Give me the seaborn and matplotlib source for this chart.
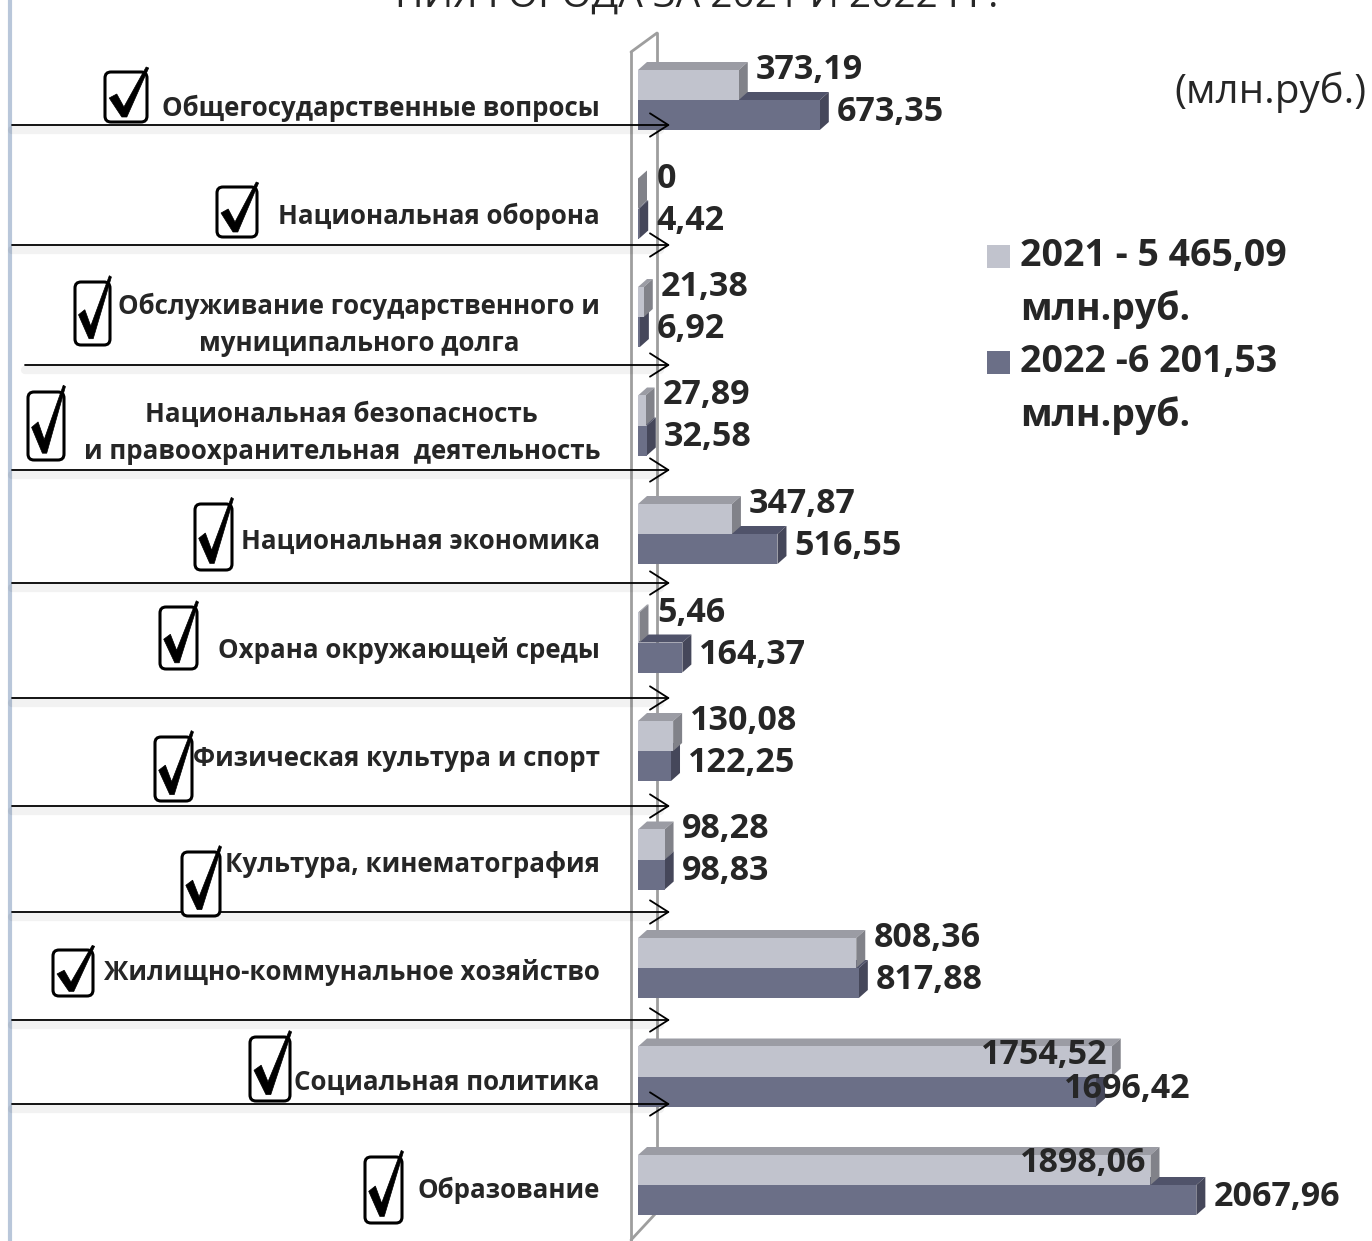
import numpy as np
import pandas as pd
import matplotlib
matplotlib.use("Agg")
import matplotlib.pyplot as plt
import matplotlib.transforms as mtransforms
from matplotlib.patches import Polygon, FancyBboxPatch, Rectangle
from matplotlib.lines import Line2D
import seaborn as sns

# ---------------- data ----------------
categories = [
    "Общегосударственные вопросы",
    "Национальная оборона",
    "Обслуживание государственного и\nмуниципального долга",
    "Национальная безопасность\nи правоохранительная  деятельность",
    "Национальная экономика",
    "Охрана окружающей среды",
    "Физическая культура и спорт",
    "Культура, кинематография",
    "Жилищно-коммунальное хозяйство",
    "Социальная политика",
    "Образование",
]
values_2021 = [373.19, 0, 21.38, 27.89, 347.87, 5.46, 130.08, 98.28, 808.36, 1754.52, 1898.06]
values_2022 = [673.35, 4.42, 6.92, 32.58, 516.55, 164.37, 122.25, 98.83, 817.88, 1696.42, 2067.96]
years = ["2021", "2022"]
legend_labels = ["2021 - 5 465,09\nмлн.руб.", "2022 -6 201,53\nмлн.руб."]
unit_label = "(млн.руб.)"
title_text = "НИЯ ГОРОДА ЗА 2021 И 2022 ГГ."

# ---------------- style ----------------
sns.set_theme(style="white")
FONT = ["Open Sans", "DejaVu Sans"]
plt.rcParams["font.family"] = FONT

LIGHT = {"front": "#C1C3CD", "top": "#9B9CA4", "side": "#818289"}
DARK = {"front": "#6B6F87", "top": "#50536A", "side": "#45475A"}

W, H = 1372, 1241
fig = plt.figure(figsize=(W / 100, H / 100), dpi=100)
ax = fig.add_axes([0, 0, 1, 1])

# pixel (top-left origin) transform for decorations
T = mtransforms.Affine2D().scale(1 / W, -1 / H).translate(0, 1) + fig.transFigure

X0, SC = 638, 0.27          # x pixel of zero, pixels per unit
Y0, STEP = 100, 108.5       # y pixel of first category centre, pixel step

df = pd.DataFrame({
    "cat": categories * 2,
    "value": values_2021 + values_2022,
    "year": [years[0]] * len(categories) + [years[1]] * len(categories),
})

sns.barplot(data=df, y="cat", x="value", hue="year", orient="h",
            palette=[LIGHT["front"], DARK["front"]], saturation=1,
            width=0.553, ax=ax, legend=False, linewidth=0, zorder=1)

ax.set_xlim(-X0 / SC, (W - X0) / SC)
ax.set_ylim((H - Y0) / STEP, -Y0 / STEP)
ax.axis("off")

DX = 9 / SC
DY = -8 / STEP

# 3-D faces
for cont, cols, zf in zip(ax.containers, [LIGHT, DARK], [0.7, 0.6]):
    for p in cont.patches:
        x0 = p.get_x()
        x1 = x0 + p.get_width()
        yt = p.get_y()
        yb = yt + p.get_height()
        top = Polygon([(x0, yt), (x0 + DX, yt + DY), (x1 + DX, yt + DY), (x1, yt)],
                      closed=True, fc=cols["top"], ec="none", zorder=zf)
        side = Polygon([(x1, yt), (x1 + DX, yt + DY), (x1 + DX, yb + DY), (x1, yb)],
                       closed=True, fc=cols["side"], ec="none", zorder=zf)
        ax.add_patch(top)
        ax.add_patch(side)

# value labels
def fmt(v):
    return ("%.2f" % v).replace(".", ",") if v != 0 else "0"

VAL_FS = 24.5
for i in range(len(categories)):
    v1, v2 = values_2021[i], values_2022[i]
    cy = Y0 + STEP * i
    e1 = X0 + v1 * SC
    e2 = X0 + v2 * SC
    if v1 > 1500:
        ax.text(e1 - 4, cy - 22, fmt(v1), transform=T, ha="right", va="center",
                fontsize=VAL_FS, fontweight="bold", zorder=8)
    else:
        ax.text(max(e1 + 17, 657), cy - 30, fmt(v1), transform=T, ha="left", va="center",
                fontsize=VAL_FS, fontweight="bold", zorder=8)
    if v2 > 1500 and v1 > v2:
        ax.text(e2 - 32, cy + 12, fmt(v2), transform=T, ha="left", va="center",
                fontsize=VAL_FS, fontweight="bold", zorder=8)
    else:
        ax.text(max(e2 + 17, 650), cy + 12, fmt(v2), transform=T, ha="left", va="center",
                fontsize=VAL_FS, fontweight="bold", zorder=8)

# wall
wall_c = "#9E9E9E"
for (xa, ya), (xb, yb) in [((631, 52), (631, 1241)), ((657, 33), (657, 1212)),
                           ((631, 52), (657, 33)), ((657, 1212), (631, 1240))]:
    ax.add_line(Line2D([xa, xb], [ya, yb], transform=T, color=wall_c, lw=2, zorder=0.3))

# left slide edge
ax.add_line(Line2D([10, 10], [0, H], transform=T, color="#B9C7DA", lw=3, zorder=0.3))

# arrows
arrow_rows = [(12, 125), (12, 245), (25, 365), (12, 470), (12, 583), (12, 698),
              (12, 806), (12, 912), (12, 1020), (12, 1104)]
for xs, ya in arrow_rows:
    ax.add_line(Line2D([xs, 660], [ya + 5, ya + 5], transform=T, color="#000000",
                       lw=6, alpha=0.05, zorder=4))
    ax.annotate("", xy=(670, ya), xytext=(xs, ya), xycoords=T, textcoords=T,
                arrowprops=dict(arrowstyle="->,head_length=1.1,head_width=0.7",
                                lw=1.3, color="black", shrinkA=0, shrinkB=0),
                zorder=5)

# category labels and check boxes
LAB_FS = 18.6
label_y = [108, 216, 325, 433, 541, 650, 758, 865, 973, 1082, 1190]
boxes = [(105, 72, 42, 50), (217, 187, 40, 50), (75, 282, 35, 63), (28, 392, 36, 68),
         (195, 504, 37, 66), (160, 607, 37, 62), (155, 737, 37, 64), (182, 852, 38, 64),
         (53, 950, 40, 46), (250, 1037, 40, 64), (365, 1157, 37, 66)]
for i, cat in enumerate(categories):
    ax.text(600, label_y[i], cat, transform=T, ha="right", va="center",
            multialignment="center", fontsize=LAB_FS, fontweight="bold",
            linespacing=1.5, zorder=7)
    bx, by, bw, bh = boxes[i]
    ax.add_patch(FancyBboxPatch((bx, by), bw, bh, boxstyle="round,pad=0,rounding_size=6",
                                transform=T, fc="white", ec="black", lw=2.2, zorder=6))
    pts = [(bx + 0.10 * bw, by + 0.52 * bh), (bx + 0.28 * bw, by + 0.44 * bh),
           (bx + 0.45 * bw, by + 0.70 * bh), (bx + 0.98 * bw, by - 0.10 * bh),
           (bx + 1.04 * bw, by - 0.08 * bh), (bx + 0.52 * bw, by + 0.90 * bh),
           (bx + 0.40 * bw, by + 0.90 * bh)]
    ax.add_patch(Polygon(pts, closed=True, transform=T, fc="black", ec="black",
                         lw=0.5, zorder=6.5))

# legend (manual)
LEG_FS = 27
for k, (lab, cols, yy) in enumerate(zip(legend_labels, [LIGHT, DARK], [256, 362])):
    ax.add_patch(Rectangle((987, yy - 11), 23, 23, transform=T, fc=cols["front"],
                           ec="none", zorder=7))
    ax.text(1020, yy, lab.split("\n")[0], transform=T, ha="left", va="center",
            fontsize=LEG_FS, fontweight="bold", zorder=7)
    ax.text(1020, yy + 54, lab.split("\n")[1], transform=T, ha="left", va="center",
            fontsize=LEG_FS, fontweight="bold", zorder=7)

ax.text(1270, 92, unit_label, transform=T, ha="center", va="center", fontsize=29, zorder=7)
ax.text(697, 7, title_text, transform=T, ha="center", va="baseline", fontsize=28, zorder=7)

fig.savefig("out.png", dpi=100)
